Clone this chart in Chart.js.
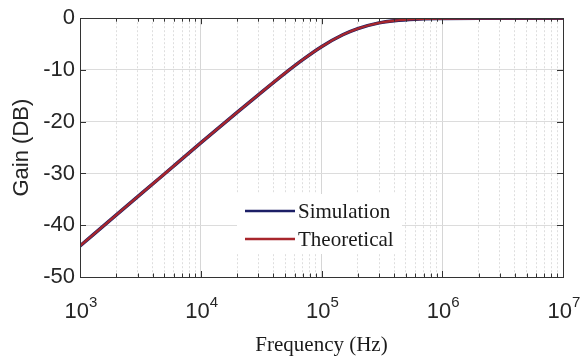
<!DOCTYPE html>
<html>
<head>
<meta charset="utf-8">
<script src="https://cdn.jsdelivr.net/npm/chart.js@4"></script>
<style>
  body { margin: 0; background: #fff; }
  canvas { display: block; }
</style>
</head>
<body>
<canvas id="myChart" width="580" height="358"></canvas>
<script>
const frequency = [1e3, 2e3, 5e3, 1e4, 2e4, 3e4, 5e4, 7e4, 1e5, 1.5e5, 2e5, 3e5, 4e5, 6e5, 1e6, 2e6, 5e6, 1e7];
const simulation = [-44, -38, -30.1, -24.1, -18.2, -14.8, -10.6, -8.0, -5.5, -3.2, -2.0, -0.9, -0.48, -0.18, -0.06, 0, 0, 0];
const theoretical = [-44, -38, -30.1, -24.1, -18.2, -14.8, -10.6, -8.0, -5.5, -3.2, -2.0, -0.9, -0.48, -0.18, -0.06, 0, 0, 0];
const xExponents = [3, 4, 5, 6, 7];
const yTicks = [0, -10, -20, -30, -40, -50];
const seriesNames = ['Simulation', 'Theoretical'];
const seriesColors = ['#1c1f66', '#a8262c'];

const toPoints = vals => frequency.map((f, i) => ({x: f, y: vals[i]}));
const isPow10 = v => Math.abs(Math.log10(v) - Math.round(Math.log10(v))) < 1e-9;

// MATLAB-like frame: box, inward ticks, custom x labels, legend
const framePlugin = {
    id: 'frame',
    afterDatasetsDraw(chart) {
        const {ctx, chartArea: a, scales: {x, y}} = chart;
        ctx.save();
        ctx.strokeStyle = '#333';
        ctx.lineWidth = 1;
        x.ticks.forEach(t => {
            const px = Math.round(x.getPixelForValue(t.value)) + 0.5;
            const len = isPow10(t.value) ? 6 : 3.5;
            ctx.beginPath();
            ctx.moveTo(px, a.bottom); ctx.lineTo(px, a.bottom - len);
            ctx.moveTo(px, a.top); ctx.lineTo(px, a.top + len);
            ctx.stroke();
        });
        y.ticks.forEach(t => {
            const py = Math.round(y.getPixelForValue(t.value)) + 0.5;
            ctx.beginPath();
            ctx.moveTo(a.left, py); ctx.lineTo(a.left + 6, py);
            ctx.moveTo(a.right, py); ctx.lineTo(a.right - 6, py);
            ctx.stroke();
        });
        ctx.strokeRect(Math.round(a.left) + 0.5, Math.round(a.top) + 0.5,
            Math.round(a.right - a.left), Math.round(a.bottom - a.top));

        // x tick labels 10^n
        ctx.fillStyle = '#262626';
        ctx.textBaseline = 'alphabetic';
        xExponents.forEach(e => {
            const px = x.getPixelForValue(Math.pow(10, e));
            ctx.font = '22px "Liberation Sans", Arial, sans-serif';
            const w1 = ctx.measureText('10').width;
            ctx.font = '15px "Liberation Sans", Arial, sans-serif';
            const w2 = ctx.measureText(String(e)).width;
            const x0 = px - (w1 + w2) / 2 + 1;
            ctx.font = '22px "Liberation Sans", Arial, sans-serif';
            ctx.textAlign = 'left';
            ctx.fillText('10', x0, 318);
            ctx.font = '15px "Liberation Sans", Arial, sans-serif';
            ctx.fillText(String(e), x0 + w1, 307);
        });

        // legend
        ctx.fillStyle = '#fff';
        ctx.fillRect(237, 194, 165, 60);
        ctx.font = '21px "Liberation Serif", "Times New Roman", serif';
        ctx.textBaseline = 'middle';
        const rows = [211, 239];
        seriesNames.forEach((name, i) => {
            ctx.strokeStyle = seriesColors[i];
            ctx.lineWidth = 2.5;
            ctx.beginPath();
            ctx.moveTo(245, rows[i]); ctx.lineTo(295, rows[i]);
            ctx.stroke();
            ctx.fillStyle = '#1a1a1a';
            ctx.fillText(name, 298, rows[i] + 1);
        });
        ctx.restore();
    }
};

const ctx = document.getElementById('myChart').getContext('2d');

const myChart = new Chart(ctx, {
    type: 'line',
    data: {
        datasets: [{
            label: seriesNames[0],
            data: toPoints(simulation),
            borderColor: seriesColors[0],
            borderWidth: 3.5,
            pointRadius: 0,
            order: 2,
            cubicInterpolationMode: 'monotone'
        }, {
            label: seriesNames[1],
            data: toPoints(theoretical),
            borderColor: seriesColors[1],
            borderWidth: 2.4,
            pointRadius: 0,
            order: 1,
            cubicInterpolationMode: 'monotone'
        }]
    },
    options: {
        responsive: false,
        maintainAspectRatio: false,
        animation: false,
        layout: {padding: {top: 15, right: 17, left: 0, bottom: 0}},
        scales: {
            x: {
                type: 'logarithmic',
                min: 1e3,
                max: 1e7,
                afterBuildTicks: scale => {
                    const ticks = [];
                    for (let e = 3; e < 7; e++) {
                        for (let m = 1; m < 10; m++) ticks.push({value: m * Math.pow(10, e)});
                    }
                    ticks.push({value: 1e7});
                    scale.ticks = ticks;
                },
                afterFit: scale => { scale.height = 81; },
                ticks: {display: false},
                grid: {
                    drawTicks: false,
                    color: c => isPow10(c.tick.value) ? '#d6d6d6' : '#dedede',
                    lineWidth: 1
                },
                border: {
                    display: false,
                    dash: c => (c.tick && isPow10(c.tick.value)) ? [] : [2, 2]
                },
                title: {
                    display: true,
                    text: 'Frequency (Hz)',
                    color: '#1a1a1a',
                    font: {family: '"Liberation Serif", "Times New Roman", serif', size: 21},
                    padding: {top: 8, bottom: 0}
                }
            },
            y: {
                min: -50,
                max: 0,
                afterBuildTicks: scale => {
                    scale.ticks = yTicks.map(v => ({value: v}));
                },
                afterFit: scale => { scale.width = 80; },
                ticks: {
                    color: '#262626',
                    padding: 5,
                    font: {family: '"Liberation Sans", Arial, sans-serif', size: 22}
                },
                grid: {drawTicks: false, color: '#dcdcdc'},
                border: {display: false},
                title: {
                    display: true,
                    text: 'Gain (DB)',
                    color: '#262626',
                    font: {family: '"Liberation Sans", Arial, sans-serif', size: 22},
                    padding: {top: 9, bottom: 0}
                }
            }
        },
        plugins: {
            legend: {display: false},
            tooltip: {enabled: false}
        }
    },
    plugins: [framePlugin]
});
</script>
</body>
</html>
